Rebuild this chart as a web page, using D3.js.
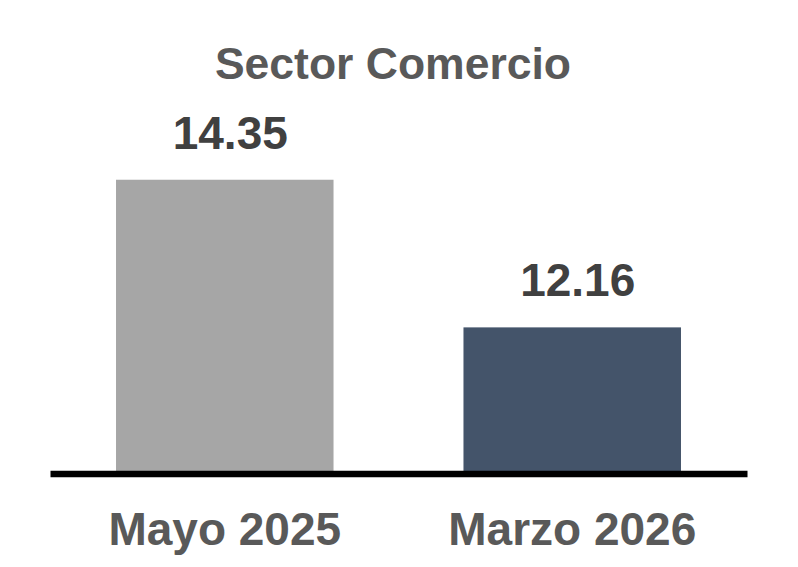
<!DOCTYPE html>
<html>
<head>
<meta charset="utf-8">
<script src="https://cdn.jsdelivr.net/npm/d3@7"></script>
<style>
  body { margin: 0; background: #fff; }
  text { font-family: "Liberation Sans", Arial, sans-serif; font-weight: bold; }
</style>
</head>
<body>
<div class="chart"></div>
<script>
const categories = ["Mayo 2025", "Marzo 2026"];
const values = [14.35, 12.16];
const barColors = ["#A6A6A6", "#44546A"];
const chartTitle = "Sector Comercio";

function main(){
    const width = 798;
    const height = 567;
    const baseY = 473;

    const svg = d3.select('.chart')
                    .append('svg')
                    .attr("width", width)
                    .attr("height", height);

    const xScale = d3.scaleBand()
                    .domain(categories)
                    .range([50, 747])
                    .paddingInner(0.374)
                    .paddingOuter(0.19);

    const yScale = d3.scaleLinear()
                    .domain([10, 16])
                    .range([baseY, 68.5]);

    const color = d3.scaleOrdinal().domain(categories).range(barColors);

    svg.append("text")
        .attr("x", 393)
        .attr("y", 79)
        .attr("text-anchor", "middle")
        .style("font-size", "44.5px")
        .style("fill", "#595959")
        .text(chartTitle);

    svg.selectAll("rect.bar")
        .data(categories)
        .enter()
        .append("rect")
        .attr("class", "bar")
        .attr("x", d => xScale(d))
        .attr("y", (d, i) => yScale(values[i]))
        .attr("width", xScale.bandwidth())
        .attr("height", (d, i) => baseY - yScale(values[i]))
        .attr("fill", d => color(d));

    // baseline
    const xAxis = d3.axisBottom(xScale).tickSize(0).tickPadding(0);
    const axisG = svg.append("g")
        .attr("transform", `translate(0, ${baseY + 0.5})`)
        .call(xAxis);
    axisG.select(".domain")
        .attr("stroke", "#000")
        .attr("stroke-width", 6.5);
    axisG.selectAll(".tick text")
        .attr("y", 71)
        .attr("dy", 0)
        .style("font-size", "46px")
        .style("font-family", "'Liberation Sans', Arial, sans-serif")
        .style("font-weight", "bold")
        .style("fill", "#595959");

    svg.selectAll("text.val")
        .data(categories)
        .enter()
        .append("text")
        .attr("class", "val")
        .attr("x", d => xScale(d) + xScale.bandwidth() / 2 + 5.5)
        .attr("y", (d, i) => yScale(values[i]) - 31)
        .attr("text-anchor", "middle")
        .style("font-size", "46px")
        .style("fill", "#404040")
        .text((d, i) => values[i].toFixed(2));
}

main();
</script>
</body>
</html>
